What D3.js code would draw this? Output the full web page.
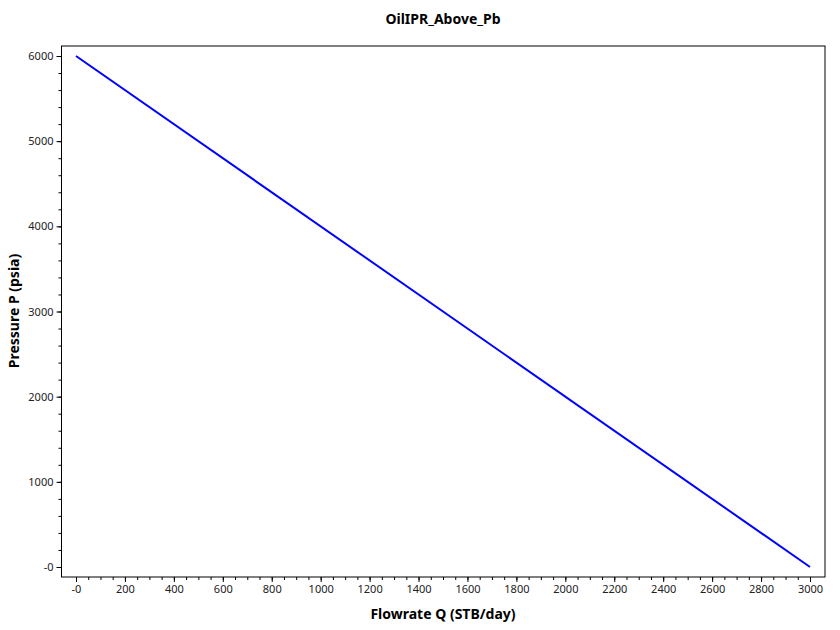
<!DOCTYPE html><html><head><meta charset="utf-8"><script src="https://cdn.jsdelivr.net/npm/d3@7"></script>
<style>body{margin:0;background:#fff}text{font-family:"Noto Sans",sans-serif}</style></head><body><svg width="840" height="630"></svg><script>
const flow=[0,3000];
const pressure=[6000,0];
const xTicks=[0,200,400,600,800,1000,1200,1400,1600,1800,2000,2200,2400,2600,2800,3000];
const yTicks=[0,1000,2000,3000,4000,5000,6000];
const svg=d3.select("svg");
const L=61.5,R=825,T=46,B=577;
const x=d3.scaleLinear().domain([0,3000]).range([76,810]);
const y=d3.scaleLinear().domain([0,6000]).range([567,56]);
const fmt=v=>v===0?"-0":String(v);
svg.append("rect").attr("x",L).attr("y",T).attr("width",R-L).attr("height",B-T).attr("fill","none").attr("stroke","#000");
const xa=svg.append("g").attr("transform",`translate(0,${B})`);
xa.call(d3.axisBottom(x).tickValues(d3.range(0,3001,50)).tickSize(3).tickFormat("")).call(g=>g.select(".domain").remove());
xa.append("g").call(d3.axisBottom(x).tickValues(xTicks).tickSize(5).tickFormat(fmt)).call(g=>g.select(".domain").remove()).selectAll("text").attr("font-size",11).attr("fill","#222");
const ya=svg.append("g").attr("transform",`translate(${L},0)`);
ya.call(d3.axisLeft(y).tickValues(d3.range(0,6001,200)).tickSize(3).tickFormat("")).call(g=>g.select(".domain").remove());
ya.append("g").call(d3.axisLeft(y).tickValues(yTicks).tickSize(5).tickFormat(fmt)).call(g=>g.select(".domain").remove()).selectAll("text").attr("font-size",11).attr("fill","#222");
svg.append("path").datum(flow.map((f,i)=>[f,pressure[i]])).attr("d",d3.line().x(d=>x(d[0])).y(d=>y(d[1]))).attr("stroke","#0000ff").attr("stroke-width",2).attr("fill","none");
svg.append("text").attr("x",443).attr("y",24).attr("text-anchor","middle").attr("font-size",14).attr("font-weight","bold").text("OilIPR_Above_Pb");
svg.append("text").attr("x",443).attr("y",619).attr("text-anchor","middle").attr("font-size",14).attr("font-weight","bold").text("Flowrate Q (STB/day)");
svg.append("text").attr("transform","translate(19,311) rotate(-90)").attr("text-anchor","middle").attr("font-size",14).attr("font-weight","bold").text("Pressure P (psia)");
</script></body></html>
